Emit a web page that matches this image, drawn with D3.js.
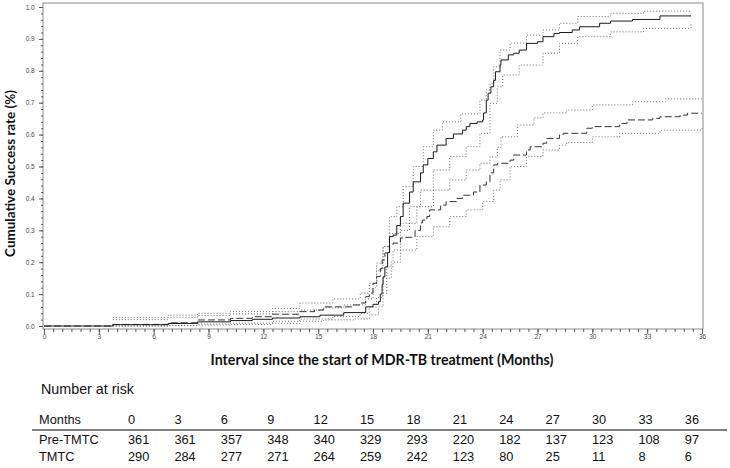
<!DOCTYPE html>
<html><head><meta charset="utf-8">
<script src="https://cdn.jsdelivr.net/npm/d3@7"></script>
<style>body{margin:0;background:#fff}</style>
</head><body><svg id="c" width="730" height="468"></svg>
<script>
// ---- data ----
const monthTicks = [0,3,6,9,12,15,18,21,24,27,30,33,36];
const rateTicks = [0,0.1,0.2,0.3,0.4,0.5,0.6,0.7,0.8,0.9,1.0];
const riskHeader = ["0","3","6","9","12","15","18","21","24","27","30","33","36"];
const riskPre = [361,361,357,348,340,329,293,220,182,137,123,108,97];
const riskTmtc = [290,284,277,271,264,259,242,123,80,25,11,8,6];
const rowLabels = ["Months","Pre-TMTC","TMTC"];

// TMTC (solid) estimate and 95% CI  [month, cumulative rate]
const tmtcEst = [[0,0],[3.76,0.004],[6.8,0.008],[8.4,0.013],[10.2,0.017],[11.4,0.021],[12.5,0.025],[14,0.029],[15.1,0.034],[16.4,0.042],[17.6,0.06],[18.0,0.068],[18.3,0.076],[18.4,0.10],[18.5,0.13],[18.55,0.154],[18.65,0.185],[18.8,0.23],[18.9,0.28],[19.1,0.285],[19.3,0.315],[19.5,0.343],[19.65,0.385],[20.0,0.42],[20.2,0.452],[20.6,0.48],[20.75,0.505],[21.0,0.525],[21.3,0.546],[21.5,0.567],[22.0,0.588],[22.4,0.602],[22.9,0.614],[23.1,0.625],[23.3,0.635],[23.7,0.64],[24.0,0.646],[24.05,0.668],[24.2,0.708],[24.3,0.73],[24.45,0.75],[24.6,0.77],[24.7,0.797],[24.95,0.818],[25.0,0.834],[25.4,0.85],[25.7,0.855],[26.0,0.865],[26.4,0.886],[27.0,0.891],[27.3,0.907],[27.9,0.917],[28.2,0.92],[28.9,0.928],[29.3,0.938],[30.4,0.949],[31.0,0.956],[32.2,0.961],[33.7,0.972],[35.4,0.972]];
const tmtcUpper = [[3.76,0.02],[6.8,0.027],[8.4,0.033],[10.2,0.038],[12.5,0.045],[14,0.05],[15.3,0.057],[16.4,0.066],[17.6,0.085],[18.0,0.12],[18.2,0.175],[18.55,0.249],[18.9,0.343],[19.3,0.374],[19.65,0.437],[20.2,0.5],[20.75,0.562],[21.3,0.614],[21.8,0.64],[22.8,0.665],[23.85,0.708],[24.2,0.74],[24.4,0.76],[24.6,0.813],[24.95,0.865],[25.5,0.887],[26.4,0.912],[27.3,0.928],[28.2,0.949],[29.2,0.97],[31.0,0.98],[32.8,0.987],[35.4,0.99]];
const tmtcLower = [[3.76,0.0],[6.8,0.001],[8.4,0.003],[10.2,0.005],[12.5,0.008],[14,0.015],[15.3,0.019],[17.0,0.022],[17.8,0.035],[18.3,0.06],[18.55,0.103],[18.75,0.186],[19.1,0.238],[19.5,0.30],[20.0,0.374],[20.6,0.426],[21.3,0.489],[22.2,0.531],[23.1,0.562],[23.85,0.604],[24.4,0.698],[24.8,0.75],[25.1,0.787],[26.0,0.818],[27.3,0.855],[28.2,0.886],[29.2,0.907],[31.0,0.922],[32.8,0.933],[35.4,0.946]];

// Pre-TMTC (dashed) estimate and 95% CI
const preEst = [[0,0],[3.76,0.005],[6.8,0.01],[8.4,0.019],[10.2,0.024],[11.4,0.029],[12.5,0.037],[14,0.045],[14.8,0.05],[15.3,0.06],[16.9,0.066],[17.3,0.072],[17.6,0.092],[17.8,0.103],[18.0,0.134],[18.2,0.155],[18.4,0.18],[18.5,0.207],[18.65,0.229],[18.9,0.254],[19.1,0.26],[19.5,0.276],[19.65,0.278],[20.3,0.30],[20.6,0.323],[20.7,0.332],[20.95,0.343],[21.1,0.364],[21.7,0.379],[22.0,0.39],[22.6,0.40],[22.9,0.41],[23.5,0.42],[23.85,0.442],[24.2,0.452],[24.4,0.48],[24.6,0.505],[24.8,0.51],[25.5,0.52],[25.7,0.536],[26.4,0.552],[26.6,0.562],[27.3,0.573],[27.5,0.588],[28.2,0.599],[28.4,0.604],[29.7,0.62],[30.0,0.625],[31.5,0.635],[31.9,0.646],[33.3,0.651],[33.7,0.656],[34.8,0.661],[35.2,0.667],[36,0.667]];
const preUpper = [[3.76,0.027],[6.8,0.034],[8.4,0.04],[10.2,0.045],[12.5,0.055],[14,0.072],[15.8,0.085],[17.3,0.103],[17.8,0.134],[18.2,0.197],[18.55,0.249],[18.9,0.29],[19.5,0.322],[20.4,0.374],[21.3,0.426],[22.2,0.458],[23.1,0.489],[23.85,0.51],[24.4,0.53],[24.8,0.56],[25.0,0.593],[25.9,0.63],[26.8,0.652],[27.3,0.668],[28.6,0.677],[30.0,0.693],[32.2,0.703],[34,0.712],[36,0.719]];
const preLower = [[3.76,0.0],[6.8,0.002],[8.4,0.006],[10.2,0.009],[12.5,0.015],[14,0.022],[15.8,0.03],[17.3,0.04],[17.8,0.06],[18.2,0.09],[18.55,0.15],[19.0,0.2],[19.5,0.238],[20.4,0.28],[21.3,0.311],[22.2,0.343],[23.1,0.364],[24.0,0.39],[24.6,0.426],[24.95,0.458],[25.5,0.5],[26.4,0.531],[27.3,0.552],[28.2,0.567],[28.6,0.575],[30.0,0.593],[31.5,0.604],[33.7,0.614],[36,0.62]];

// ---- drawing ----
const svg = d3.select("#c");
const x = d3.scaleLinear().domain([0,36]).range([44,702]);
const y = d3.scaleLinear().domain([0,1]).range([326,7]);
const frame = {l:43, t:3, r:703, b:329};

// frame
svg.append("rect").attr("x",frame.l).attr("y",frame.t)
  .attr("width",frame.r-frame.l).attr("height",frame.b-frame.t)
  .attr("fill","none").attr("stroke","#8a8a8a").attr("stroke-width",1);

// x axis
const gx = svg.append("g").attr("transform",`translate(0,${frame.b})`);
gx.call(d3.axisBottom(x).tickValues(d3.range(0,36.01,0.5)).tickSize(3).tickFormat(""))
  .call(g=>g.select(".domain").remove());
gx.append("g").call(d3.axisBottom(x).tickValues(monthTicks).tickSize(5).tickFormat(d3.format("d")))
  .call(g=>g.select(".domain").remove())
  .call(g=>g.selectAll("text").attr("dy","0.3em").attr("font-size","6.5px").attr("fill","#444").attr("font-family","Liberation Sans, Arial, sans-serif"));
gx.selectAll("line").attr("stroke","#555");

// y axis
const gy = svg.append("g").attr("transform",`translate(${frame.l},0)`);
gy.call(d3.axisLeft(y).tickValues(d3.range(0,1.001,0.02)).tickSize(2).tickFormat(""))
  .call(g=>g.select(".domain").remove());
gy.append("g").call(d3.axisLeft(y).tickValues(rateTicks).tickSize(4).tickFormat(d3.format(".1f")))
  .call(g=>g.select(".domain").remove())
  .call(g=>g.selectAll("text").attr("dx","-0.2em").attr("font-size","6.5px").attr("fill","#444").attr("font-family","Liberation Sans, Arial, sans-serif"));
gy.selectAll("line").attr("stroke","#555");

// curves
const line = d3.line().x(d=>x(d[0])).y(d=>y(d[1])).curve(d3.curveStepAfter);
const cis = [tmtcUpper,tmtcLower,preUpper,preLower];
svg.append("g").selectAll("path").data(cis).join("path")
  .attr("d",line).attr("fill","none").attr("stroke","#6a6a6a").attr("stroke-width",1)
  .attr("stroke-dasharray","1,2");
svg.append("path").datum(preEst).attr("d",line).attr("fill","none")
  .attr("stroke","#333").attr("stroke-width",1).attr("stroke-dasharray","7,3");
svg.append("path").datum(tmtcEst).attr("d",line).attr("fill","none")
  .attr("stroke","#1a1a1a").attr("stroke-width",1);

// titles, fitted to measured widths
function fit(sel, w){ const l = sel.node().getComputedTextLength(); const fs = parseFloat(sel.attr("font-size")); sel.attr("font-size", (fs*w/l).toFixed(2)+"px"); }
const xt = svg.append("text").attr("x",382).attr("y",365).attr("text-anchor","middle")
  .attr("font-family","Lato, sans-serif").attr("font-weight","bold").attr("font-size","13px").attr("fill","#111")
  .text("Interval since the start of MDR-TB treatment (Months)");
fit(xt,343);
const yt = svg.append("text").attr("transform","translate(15,173.5) rotate(-90)").attr("text-anchor","middle")
  .attr("font-family","Lato, sans-serif").attr("font-weight","bold").attr("font-size","13px").attr("fill","#111")
  .text("Cumulative Success rate (%)");
fit(yt,167);

// number at risk table
const nt = svg.append("text").attr("x",41).attr("y",394).attr("font-family","Liberation Sans, Arial, sans-serif")
  .attr("font-size","14px").attr("fill","#111").text("Number at risk");
fit(nt,93);
const col = d3.scalePoint().domain(riskHeader).range([128,684.8]);
const rowY = [424,444,461];
const tf = "Liberation Sans, Arial, sans-serif";
svg.append("g").selectAll("text").data(rowLabels).join("text")
  .attr("x",39).attr("y",(d,i)=>rowY[i]).attr("font-family",tf).attr("font-size","12.8px").attr("fill","#111").text(d=>d);
const rows = [riskHeader, riskPre, riskTmtc];
rows.forEach((r,i)=>{
  svg.append("g").selectAll("text").data(r).join("text")
    .attr("x",(d,j)=>col(riskHeader[j])).attr("y",rowY[i]).attr("font-family",tf)
    .attr("font-size","12.8px").attr("fill","#111").text(d=>d);
});
svg.append("line").attr("x1",32).attr("x2",727).attr("y1",430).attr("y2",430)
  .attr("stroke","#000").attr("stroke-width",1);
</script></body></html>
